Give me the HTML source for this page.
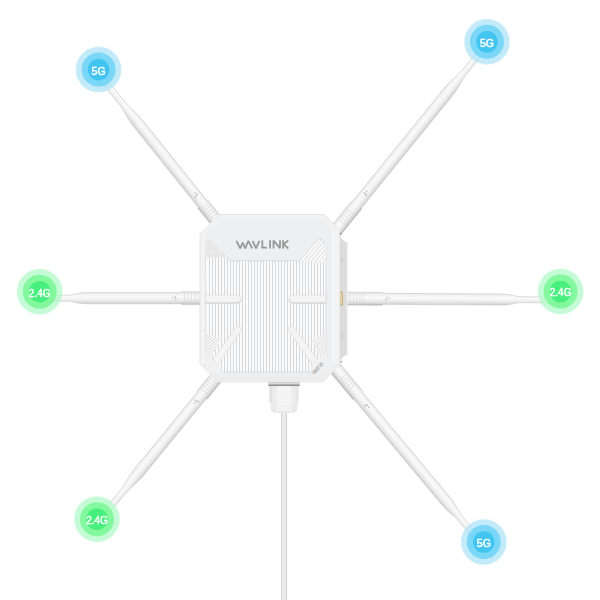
<!DOCTYPE html>
<html><head><meta charset="utf-8">
<style>
html,body{margin:0;padding:0;background:#fff;}
body{width:600px;height:600px;overflow:hidden;position:relative;}
svg{position:absolute;left:0;top:0;}
text{font-family:"Liberation Sans",sans-serif;}
</style></head>
<body>
<svg width="600" height="600" viewBox="0 0 600 600">
<defs>
  <filter id="soft" x="-20%" y="-20%" width="140%" height="140%"><feGaussianBlur stdDeviation="0.35"/></filter>
  <linearGradient id="antG" x1="0" y1="0" x2="0" y2="1">
    <stop offset="0" stop-color="#dedede"/>
    <stop offset="0.15" stop-color="#efefef"/>
    <stop offset="0.38" stop-color="#fafafa"/>
    <stop offset="0.62" stop-color="#f0f0f0"/>
    <stop offset="0.86" stop-color="#d8d8d8"/>
    <stop offset="1" stop-color="#a9a9a9"/>
  </linearGradient>
  <pattern id="ribs" x="0.7" y="0" width="3" height="10" patternUnits="userSpaceOnUse">
    <rect width="3" height="10" fill="#f8f8f8"/>
    <rect x="0" width="1" height="10" fill="#dedede"/>
  </pattern>
  <pattern id="hatch" width="2.6" height="2.6" patternUnits="userSpaceOnUse" patternTransform="rotate(45)">
    <rect width="2.6" height="2.6" fill="#f6f6f6"/>
    <rect width="0.9" height="2.6" fill="#dcdcdc"/>
  </pattern>
  <pattern id="hatch2" width="2.6" height="2.6" patternUnits="userSpaceOnUse" patternTransform="rotate(-45)">
    <rect width="2.6" height="2.6" fill="#f6f6f6"/>
    <rect width="0.9" height="2.6" fill="#dcdcdc"/>
  </pattern>
</defs>
<!-- cable -->
<rect x="281" y="405" width="6" height="195" fill="#ededed"/>
<rect x="281" y="405" width="1.2" height="195" fill="#d9d9d9"/>
<rect x="285.8" y="405" width="1.2" height="195" fill="#d2d2d2"/>
<g transform="translate(205,298.2) rotate(180) scale(1,-1)">
<path d="M-12,-6.4 L23,-6.4 L24.5,-5.5 L119,-5.5 C129.0,-5.5 131.0,-2.9 139,-2.9 L165,-2.9 Q168,-2.9 168,0 Q168,2.9 165,2.9 L139,2.9 C131.0,2.9 129.0,5.5 119,5.5 L24.5,5.5 L23,6.4 L-12,6.4 Z" fill="url(#antG)" stroke="#cdcdcd" stroke-width="0.7"/>
<line x1="7.0" y1="-5.800000000000001" x2="7.0" y2="5.800000000000001" stroke="#d9d9d9" stroke-width="0.7"/>
<line x1="10.3" y1="-5.800000000000001" x2="10.3" y2="5.800000000000001" stroke="#d9d9d9" stroke-width="0.7"/>
<line x1="13.6" y1="-5.800000000000001" x2="13.6" y2="5.800000000000001" stroke="#d9d9d9" stroke-width="0.7"/>
<line x1="16.9" y1="-5.800000000000001" x2="16.9" y2="5.800000000000001" stroke="#d9d9d9" stroke-width="0.7"/>
<line x1="20.2" y1="-5.800000000000001" x2="20.2" y2="5.800000000000001" stroke="#d9d9d9" stroke-width="0.7"/>
<path d="M29.5,-2.2 q1.5,1 0,2.2 q-1.5,1 0,2.2 M32.2,-1.6 q1.2,0.8 0,1.6" fill="none" stroke="#8c8c8c" stroke-width="0.55"/>
</g>
<g transform="translate(343,298.6) rotate(0.35)">
<path d="M-12,-6.4 L39,-6.4 L40.5,-5.5 L158,-5.5 C169.0,-5.5 171.2,-2.9 180,-2.9 L221.5,-2.9 Q224.5,-2.9 224.5,0 Q224.5,2.9 221.5,2.9 L180,2.9 C171.2,2.9 169.0,5.5 158,5.5 L40.5,5.5 L39,6.4 L-12,6.4 Z" fill="url(#antG)" stroke="#cdcdcd" stroke-width="0.7"/>
<line x1="7.0" y1="-5.800000000000001" x2="7.0" y2="5.800000000000001" stroke="#d9d9d9" stroke-width="0.7"/>
<line x1="10.3" y1="-5.800000000000001" x2="10.3" y2="5.800000000000001" stroke="#d9d9d9" stroke-width="0.7"/>
<line x1="13.6" y1="-5.800000000000001" x2="13.6" y2="5.800000000000001" stroke="#d9d9d9" stroke-width="0.7"/>
<line x1="16.9" y1="-5.800000000000001" x2="16.9" y2="5.800000000000001" stroke="#d9d9d9" stroke-width="0.7"/>
<line x1="20.2" y1="-5.800000000000001" x2="20.2" y2="5.800000000000001" stroke="#d9d9d9" stroke-width="0.7"/>
<path d="M43.5,-2.2 q1.5,1 0,2.2 q-1.5,1 0,2.2 M46.2,-1.6 q1.2,0.8 0,1.6" fill="none" stroke="#8c8c8c" stroke-width="0.55"/>
</g>
<g transform="translate(217.1,222) rotate(-128.66) scale(1,-1)">
<path d="M-12,-6.4 L22,-6.4 L23.5,-5.5 L124,-5.5 C139.0,-5.5 142.0,-2.9 154,-2.9 L179,-2.9 Q182,-2.9 182,0 Q182,2.9 179,2.9 L154,2.9 C142.0,2.9 139.0,5.5 124,5.5 L23.5,5.5 L22,6.4 L-12,6.4 Z" fill="url(#antG)" stroke="#cdcdcd" stroke-width="0.7"/>
<line x1="7.0" y1="-5.800000000000001" x2="7.0" y2="5.800000000000001" stroke="#d9d9d9" stroke-width="0.7"/>
<line x1="10.3" y1="-5.800000000000001" x2="10.3" y2="5.800000000000001" stroke="#d9d9d9" stroke-width="0.7"/>
<line x1="13.6" y1="-5.800000000000001" x2="13.6" y2="5.800000000000001" stroke="#d9d9d9" stroke-width="0.7"/>
<line x1="16.9" y1="-5.800000000000001" x2="16.9" y2="5.800000000000001" stroke="#d9d9d9" stroke-width="0.7"/>
<line x1="20.2" y1="-5.800000000000001" x2="20.2" y2="5.800000000000001" stroke="#d9d9d9" stroke-width="0.7"/>
<path d="M33.5,-2.2 q1.5,1 0,2.2 q-1.5,1 0,2.2 M36.2,-1.6 q1.2,0.8 0,1.6" fill="none" stroke="#8c8c8c" stroke-width="0.55"/>
</g>
<g transform="translate(338.1,228) rotate(-50.99)">
<path d="M-12,-6.4 L29,-6.4 L30.5,-5.5 L174,-5.5 C187.0,-5.5 189.6,-2.9 200,-2.9 L226,-2.9 Q229,-2.9 229,0 Q229,2.9 226,2.9 L200,2.9 C189.6,2.9 187.0,5.5 174,5.5 L30.5,5.5 L29,6.4 L-12,6.4 Z" fill="url(#antG)" stroke="#cdcdcd" stroke-width="0.7"/>
<line x1="7.0" y1="-5.800000000000001" x2="7.0" y2="5.800000000000001" stroke="#d9d9d9" stroke-width="0.7"/>
<line x1="10.3" y1="-5.800000000000001" x2="10.3" y2="5.800000000000001" stroke="#d9d9d9" stroke-width="0.7"/>
<line x1="13.6" y1="-5.800000000000001" x2="13.6" y2="5.800000000000001" stroke="#d9d9d9" stroke-width="0.7"/>
<line x1="16.9" y1="-5.800000000000001" x2="16.9" y2="5.800000000000001" stroke="#d9d9d9" stroke-width="0.7"/>
<line x1="20.2" y1="-5.800000000000001" x2="20.2" y2="5.800000000000001" stroke="#d9d9d9" stroke-width="0.7"/>
<path d="M43.5,-2.2 q1.5,1 0,2.2 q-1.5,1 0,2.2 M46.2,-1.6 q1.2,0.8 0,1.6" fill="none" stroke="#8c8c8c" stroke-width="0.55"/>
</g>
<g transform="translate(217.7,376) rotate(129.3) scale(1,-1)">
<path d="M-12,-6.4 L24,-6.4 L25.5,-5.5 L122,-5.5 C137.0,-5.5 140.0,-2.9 152,-2.9 L177,-2.9 Q180,-2.9 180,0 Q180,2.9 177,2.9 L152,2.9 C140.0,2.9 137.0,5.5 122,5.5 L25.5,5.5 L24,6.4 L-12,6.4 Z" fill="url(#antG)" stroke="#cdcdcd" stroke-width="0.7"/>
<line x1="7.0" y1="-5.800000000000001" x2="7.0" y2="5.800000000000001" stroke="#d9d9d9" stroke-width="0.7"/>
<line x1="10.3" y1="-5.800000000000001" x2="10.3" y2="5.800000000000001" stroke="#d9d9d9" stroke-width="0.7"/>
<line x1="13.6" y1="-5.800000000000001" x2="13.6" y2="5.800000000000001" stroke="#d9d9d9" stroke-width="0.7"/>
<line x1="16.9" y1="-5.800000000000001" x2="16.9" y2="5.800000000000001" stroke="#d9d9d9" stroke-width="0.7"/>
<line x1="20.2" y1="-5.800000000000001" x2="20.2" y2="5.800000000000001" stroke="#d9d9d9" stroke-width="0.7"/>
<path d="M32.5,-2.2 q1.5,1 0,2.2 q-1.5,1 0,2.2 M35.2,-1.6 q1.2,0.8 0,1.6" fill="none" stroke="#8c8c8c" stroke-width="0.55"/>
</g>
<g transform="translate(338.4,372) rotate(50.2)">
<path d="M-12,-6.4 L30,-6.4 L31.5,-5.5 L168,-5.5 C180.0,-5.5 182.4,-2.9 192,-2.9 L239,-2.9 Q242,-2.9 242,0 Q242,2.9 239,2.9 L192,2.9 C182.4,2.9 180.0,5.5 168,5.5 L31.5,5.5 L30,6.4 L-12,6.4 Z" fill="url(#antG)" stroke="#cdcdcd" stroke-width="0.7"/>
<line x1="7.0" y1="-5.800000000000001" x2="7.0" y2="5.800000000000001" stroke="#d9d9d9" stroke-width="0.7"/>
<line x1="10.3" y1="-5.800000000000001" x2="10.3" y2="5.800000000000001" stroke="#d9d9d9" stroke-width="0.7"/>
<line x1="13.6" y1="-5.800000000000001" x2="13.6" y2="5.800000000000001" stroke="#d9d9d9" stroke-width="0.7"/>
<line x1="16.9" y1="-5.800000000000001" x2="16.9" y2="5.800000000000001" stroke="#d9d9d9" stroke-width="0.7"/>
<line x1="20.2" y1="-5.800000000000001" x2="20.2" y2="5.800000000000001" stroke="#d9d9d9" stroke-width="0.7"/>
<path d="M43.5,-2.2 q1.5,1 0,2.2 q-1.5,1 0,2.2 M46.2,-1.6 q1.2,0.8 0,1.6" fill="none" stroke="#8c8c8c" stroke-width="0.55"/>
</g>
<g transform="translate(98.6,69.6)" filter="url(#soft)"><circle r="23.5" fill="#afe2f7" fill-opacity="0.22"/><circle r="22.5" fill="#afe2f7" fill-opacity="0.7"/><circle r="17" fill="#62d0f8" fill-opacity="0.75"/><circle r="10.8" fill="#43c5f1"/><text x="0" y="5.0" font-size="10.5" fill="#fff" stroke="#fff" stroke-width="0.45" text-anchor="middle" style="font-weight:400">5G</text></g>
<g transform="translate(487,41.8)" filter="url(#soft)"><circle r="23.5" fill="#afe2f7" fill-opacity="0.22"/><circle r="22.5" fill="#afe2f7" fill-opacity="0.7"/><circle r="17" fill="#62d0f8" fill-opacity="0.75"/><circle r="10.8" fill="#43c5f1"/><text x="0" y="5.0" font-size="10.5" fill="#fff" stroke="#fff" stroke-width="0.45" text-anchor="middle" style="font-weight:400">5G</text></g>
<g transform="translate(483.8,542)" filter="url(#soft)"><circle r="23.5" fill="#afe2f7" fill-opacity="0.22"/><circle r="22.5" fill="#afe2f7" fill-opacity="0.7"/><circle r="17" fill="#62d0f8" fill-opacity="0.75"/><circle r="10.8" fill="#43c5f1"/><text x="0" y="5.0" font-size="10.5" fill="#fff" stroke="#fff" stroke-width="0.45" text-anchor="middle" style="font-weight:400">5G</text></g>
<g transform="translate(39.7,291.7)" filter="url(#soft)"><circle r="23.5" fill="#b2f9c9" fill-opacity="0.22"/><circle r="22.5" fill="#b2f9c9" fill-opacity="0.7"/><circle r="17" fill="#6ff78b" fill-opacity="0.75"/><circle r="10.8" fill="#46f07c"/><text x="0" y="4.8" font-size="10" fill="#fff" stroke="#fff" stroke-width="0.45" text-anchor="middle" style="font-weight:400">2.4G</text></g>
<g transform="translate(560.6,291.5)" filter="url(#soft)"><circle r="23.5" fill="#b2f9c9" fill-opacity="0.22"/><circle r="22.5" fill="#b2f9c9" fill-opacity="0.7"/><circle r="17" fill="#6ff78b" fill-opacity="0.75"/><circle r="10.8" fill="#46f07c"/><text x="0" y="4.8" font-size="10" fill="#fff" stroke="#fff" stroke-width="0.45" text-anchor="middle" style="font-weight:400">2.4G</text></g>
<g transform="translate(97,519.2)" filter="url(#soft)"><circle r="23.5" fill="#b2f9c9" fill-opacity="0.22"/><circle r="22.5" fill="#b2f9c9" fill-opacity="0.7"/><circle r="17" fill="#6ff78b" fill-opacity="0.75"/><circle r="10.8" fill="#46f07c"/><text x="0" y="4.8" font-size="10" fill="#fff" stroke="#fff" stroke-width="0.45" text-anchor="middle" style="font-weight:400">2.4G</text></g>
<g id="body">
<path d="M339.5,236 L344,241 L347.5,242 L347.5,355 L344,356 L339.5,361 Z" fill="#dcdcdc"/>
<rect x="346.3" y="242" width="1.4" height="1.5" fill="#f4f4f4"/>
<rect x="346.3" y="245" width="1.4" height="1.5" fill="#f4f4f4"/>
<rect x="346.3" y="248" width="1.4" height="1.5" fill="#f4f4f4"/>
<rect x="346.3" y="251" width="1.4" height="1.5" fill="#f4f4f4"/>
<rect x="346.3" y="254" width="1.4" height="1.5" fill="#f4f4f4"/>
<rect x="346.3" y="257" width="1.4" height="1.5" fill="#f4f4f4"/>
<rect x="346.3" y="260" width="1.4" height="1.5" fill="#f4f4f4"/>
<rect x="346.3" y="263" width="1.4" height="1.5" fill="#f4f4f4"/>
<rect x="346.3" y="266" width="1.4" height="1.5" fill="#f4f4f4"/>
<rect x="346.3" y="269" width="1.4" height="1.5" fill="#f4f4f4"/>
<rect x="346.3" y="272" width="1.4" height="1.5" fill="#f4f4f4"/>
<rect x="346.3" y="275" width="1.4" height="1.5" fill="#f4f4f4"/>
<rect x="346.3" y="278" width="1.4" height="1.5" fill="#f4f4f4"/>
<rect x="346.3" y="281" width="1.4" height="1.5" fill="#f4f4f4"/>
<rect x="346.3" y="284" width="1.4" height="1.5" fill="#f4f4f4"/>
<rect x="346.3" y="287" width="1.4" height="1.5" fill="#f4f4f4"/>
<rect x="346.3" y="290" width="1.4" height="1.5" fill="#f4f4f4"/>
<rect x="346.3" y="293" width="1.4" height="1.5" fill="#f4f4f4"/>
<rect x="346.3" y="296" width="1.4" height="1.5" fill="#f4f4f4"/>
<rect x="346.3" y="299" width="1.4" height="1.5" fill="#f4f4f4"/>
<rect x="346.3" y="302" width="1.4" height="1.5" fill="#f4f4f4"/>
<rect x="346.3" y="305" width="1.4" height="1.5" fill="#f4f4f4"/>
<rect x="346.3" y="308" width="1.4" height="1.5" fill="#f4f4f4"/>
<rect x="346.3" y="311" width="1.4" height="1.5" fill="#f4f4f4"/>
<rect x="346.3" y="314" width="1.4" height="1.5" fill="#f4f4f4"/>
<rect x="346.3" y="317" width="1.4" height="1.5" fill="#f4f4f4"/>
<rect x="346.3" y="320" width="1.4" height="1.5" fill="#f4f4f4"/>
<rect x="346.3" y="323" width="1.4" height="1.5" fill="#f4f4f4"/>
<rect x="346.3" y="326" width="1.4" height="1.5" fill="#f4f4f4"/>
<rect x="346.3" y="329" width="1.4" height="1.5" fill="#f4f4f4"/>
<rect x="346.3" y="332" width="1.4" height="1.5" fill="#f4f4f4"/>
<rect x="346.3" y="335" width="1.4" height="1.5" fill="#f4f4f4"/>
<rect x="346.3" y="338" width="1.4" height="1.5" fill="#f4f4f4"/>
<rect x="346.3" y="341" width="1.4" height="1.5" fill="#f4f4f4"/>
<rect x="346.3" y="344" width="1.4" height="1.5" fill="#f4f4f4"/>
<rect x="346.3" y="347" width="1.4" height="1.5" fill="#f4f4f4"/>
<rect x="346.3" y="350" width="1.4" height="1.5" fill="#f4f4f4"/>
<rect x="346.3" y="353" width="1.4" height="1.5" fill="#f4f4f4"/>
<rect x="340.5" y="258" width="2.5" height="4" fill="#cfcfcf"/>
<rect x="340.5" y="334" width="2.5" height="4" fill="#cfcfcf"/>
<circle cx="340.3" cy="233.8" r="0.9" fill="#444"/>
<circle cx="341" cy="361.8" r="0.8" fill="#666"/>
<rect x="339.8" y="291.5" width="3.2" height="14" fill="#c9b27c"/>
<rect x="340.3" y="293" width="1.6" height="11" fill="#e6d6a6"/>
<path d="M219,214.5 L324.5,214.5 L340,231 L340,364 L323,382 L218,382 L200,364 L200,234 Z" fill="#f3f3f3" stroke="#dadada" stroke-width="0.7"/>
<path d="M324.5,214.5 L340,231 L331.5,231 L320,218.5 Z" fill="#f1f1f2"/>
<path d="M219,214.5 L200,234 L205,234 L221,218.5 Z" fill="#f1f1f2"/>
<path d="M200,364 L218,382 L323,382 L340,364 L335,364 L320,377 L221,377 L205,364 Z" fill="#ededed"/>
<line x1="221" y1="377" x2="320" y2="377" stroke="#e2e2e2" stroke-width="0.6"/>
<path d="M221,218.5 L320,218.5 L331.5,231 L331.5,366 L320,377 L221,377 L205,364 L205,234 Z" fill="#eeeff1"/>
<path d="M205.5,246 Q205.5,241 210.5,240.5 L229.5,260.8 L299.7,260.8 L318.3,238.8 Q320,237.5 321.5,239 L326,245 L326,351 L312,372 L222,372 L206,352 Z" fill="#fbfbfc" stroke="#d6d6d6" stroke-width="0.7"/>
<clipPath id="pclip"><path d="M205.5,246 Q205.5,241 210.5,240.5 L229.5,260.8 L299.7,260.8 L318.3,238.8 Q320,237.5 321.5,239 L326,245 L326,351 L312,372 L222,372 L206,352 Z"/></clipPath>
<g clip-path="url(#pclip)" stroke="#d7d8da" stroke-width="1.0">
<line x1="209.5" y1="236" x2="209.5" y2="372"/>
<line x1="212.5" y1="236" x2="212.5" y2="372"/>
<line x1="215.5" y1="236" x2="215.5" y2="372"/>
<line x1="218.5" y1="236" x2="218.5" y2="372"/>
<line x1="221.5" y1="236" x2="221.5" y2="372"/>
<line x1="224.5" y1="236" x2="224.5" y2="372"/>
<line x1="227.5" y1="236" x2="227.5" y2="372"/>
<line x1="230.5" y1="236" x2="230.5" y2="372"/>
<line x1="233.5" y1="236" x2="233.5" y2="372"/>
<line x1="236.5" y1="236" x2="236.5" y2="372"/>
<line x1="239.5" y1="236" x2="239.5" y2="372"/>
<line x1="242.5" y1="236" x2="242.5" y2="372"/>
<line x1="245.5" y1="236" x2="245.5" y2="372"/>
<line x1="248.5" y1="236" x2="248.5" y2="372"/>
<line x1="251.5" y1="236" x2="251.5" y2="372"/>
<line x1="254.5" y1="236" x2="254.5" y2="372"/>
<line x1="257.5" y1="236" x2="257.5" y2="372"/>
<line x1="260.5" y1="236" x2="260.5" y2="372"/>
<line x1="263.5" y1="236" x2="263.5" y2="372"/>
<line x1="266.5" y1="236" x2="266.5" y2="372"/>
<line x1="269.5" y1="236" x2="269.5" y2="372"/>
<line x1="272.5" y1="236" x2="272.5" y2="372"/>
<line x1="275.5" y1="236" x2="275.5" y2="372"/>
<line x1="278.5" y1="236" x2="278.5" y2="372"/>
<line x1="281.5" y1="236" x2="281.5" y2="372"/>
<line x1="284.5" y1="236" x2="284.5" y2="372"/>
<line x1="287.5" y1="236" x2="287.5" y2="372"/>
<line x1="290.5" y1="236" x2="290.5" y2="372"/>
<line x1="293.5" y1="236" x2="293.5" y2="372"/>
<line x1="296.5" y1="236" x2="296.5" y2="372"/>
<line x1="299.5" y1="236" x2="299.5" y2="372"/>
<line x1="302.5" y1="236" x2="302.5" y2="372"/>
<line x1="305.5" y1="236" x2="305.5" y2="372"/>
<line x1="308.5" y1="236" x2="308.5" y2="372"/>
<line x1="311.5" y1="236" x2="311.5" y2="372"/>
<line x1="314.5" y1="236" x2="314.5" y2="372"/>
<line x1="317.5" y1="236" x2="317.5" y2="372"/>
<line x1="320.5" y1="236" x2="320.5" y2="372"/>
<line x1="323.5" y1="236" x2="323.5" y2="372"/>
</g>
<clipPath id="tlc"><path d="M205.5,246 Q205.5,241 210.5,240.5 L226,257.5 L205.5,257.5 Z"/></clipPath>
<g clip-path="url(#tlc)"><rect x="205" y="238" width="25" height="22" fill="#f7f7f7"/>
<line x1="181.0" y1="238" x2="203.0" y2="260" stroke="#dcdcdc" stroke-width="0.8"/>
<line x1="181.0" y1="260" x2="203.0" y2="238" stroke="#dcdcdc" stroke-width="0.8"/>
<line x1="183.4" y1="238" x2="205.4" y2="260" stroke="#dcdcdc" stroke-width="0.8"/>
<line x1="183.4" y1="260" x2="205.4" y2="238" stroke="#dcdcdc" stroke-width="0.8"/>
<line x1="185.8" y1="238" x2="207.8" y2="260" stroke="#dcdcdc" stroke-width="0.8"/>
<line x1="185.8" y1="260" x2="207.8" y2="238" stroke="#dcdcdc" stroke-width="0.8"/>
<line x1="188.2" y1="238" x2="210.2" y2="260" stroke="#dcdcdc" stroke-width="0.8"/>
<line x1="188.2" y1="260" x2="210.2" y2="238" stroke="#dcdcdc" stroke-width="0.8"/>
<line x1="190.6" y1="238" x2="212.6" y2="260" stroke="#dcdcdc" stroke-width="0.8"/>
<line x1="190.6" y1="260" x2="212.6" y2="238" stroke="#dcdcdc" stroke-width="0.8"/>
<line x1="193.0" y1="238" x2="215.0" y2="260" stroke="#dcdcdc" stroke-width="0.8"/>
<line x1="193.0" y1="260" x2="215.0" y2="238" stroke="#dcdcdc" stroke-width="0.8"/>
<line x1="195.4" y1="238" x2="217.4" y2="260" stroke="#dcdcdc" stroke-width="0.8"/>
<line x1="195.4" y1="260" x2="217.4" y2="238" stroke="#dcdcdc" stroke-width="0.8"/>
<line x1="197.8" y1="238" x2="219.8" y2="260" stroke="#dcdcdc" stroke-width="0.8"/>
<line x1="197.8" y1="260" x2="219.8" y2="238" stroke="#dcdcdc" stroke-width="0.8"/>
<line x1="200.2" y1="238" x2="222.2" y2="260" stroke="#dcdcdc" stroke-width="0.8"/>
<line x1="200.2" y1="260" x2="222.2" y2="238" stroke="#dcdcdc" stroke-width="0.8"/>
<line x1="202.6" y1="238" x2="224.6" y2="260" stroke="#dcdcdc" stroke-width="0.8"/>
<line x1="202.6" y1="260" x2="224.6" y2="238" stroke="#dcdcdc" stroke-width="0.8"/>
<line x1="205.0" y1="238" x2="227.0" y2="260" stroke="#dcdcdc" stroke-width="0.8"/>
<line x1="205.0" y1="260" x2="227.0" y2="238" stroke="#dcdcdc" stroke-width="0.8"/>
<line x1="207.4" y1="238" x2="229.4" y2="260" stroke="#dcdcdc" stroke-width="0.8"/>
<line x1="207.4" y1="260" x2="229.4" y2="238" stroke="#dcdcdc" stroke-width="0.8"/>
<line x1="209.8" y1="238" x2="231.8" y2="260" stroke="#dcdcdc" stroke-width="0.8"/>
<line x1="209.8" y1="260" x2="231.8" y2="238" stroke="#dcdcdc" stroke-width="0.8"/>
<line x1="212.2" y1="238" x2="234.2" y2="260" stroke="#dcdcdc" stroke-width="0.8"/>
<line x1="212.2" y1="260" x2="234.2" y2="238" stroke="#dcdcdc" stroke-width="0.8"/>
<line x1="214.6" y1="238" x2="236.6" y2="260" stroke="#dcdcdc" stroke-width="0.8"/>
<line x1="214.6" y1="260" x2="236.6" y2="238" stroke="#dcdcdc" stroke-width="0.8"/>
<line x1="217.0" y1="238" x2="239.0" y2="260" stroke="#dcdcdc" stroke-width="0.8"/>
<line x1="217.0" y1="260" x2="239.0" y2="238" stroke="#dcdcdc" stroke-width="0.8"/>
<line x1="219.4" y1="238" x2="241.4" y2="260" stroke="#dcdcdc" stroke-width="0.8"/>
<line x1="219.4" y1="260" x2="241.4" y2="238" stroke="#dcdcdc" stroke-width="0.8"/>
<line x1="221.8" y1="238" x2="243.8" y2="260" stroke="#dcdcdc" stroke-width="0.8"/>
<line x1="221.8" y1="260" x2="243.8" y2="238" stroke="#dcdcdc" stroke-width="0.8"/>
<line x1="224.2" y1="238" x2="246.2" y2="260" stroke="#dcdcdc" stroke-width="0.8"/>
<line x1="224.2" y1="260" x2="246.2" y2="238" stroke="#dcdcdc" stroke-width="0.8"/>
<line x1="226.6" y1="238" x2="248.6" y2="260" stroke="#dcdcdc" stroke-width="0.8"/>
<line x1="226.6" y1="260" x2="248.6" y2="238" stroke="#dcdcdc" stroke-width="0.8"/>
<line x1="229.0" y1="238" x2="251.0" y2="260" stroke="#dcdcdc" stroke-width="0.8"/>
<line x1="229.0" y1="260" x2="251.0" y2="238" stroke="#dcdcdc" stroke-width="0.8"/>
<line x1="231.4" y1="238" x2="253.4" y2="260" stroke="#dcdcdc" stroke-width="0.8"/>
<line x1="231.4" y1="260" x2="253.4" y2="238" stroke="#dcdcdc" stroke-width="0.8"/>
<line x1="233.8" y1="238" x2="255.8" y2="260" stroke="#dcdcdc" stroke-width="0.8"/>
<line x1="233.8" y1="260" x2="255.8" y2="238" stroke="#dcdcdc" stroke-width="0.8"/>
<line x1="236.2" y1="238" x2="258.2" y2="260" stroke="#dcdcdc" stroke-width="0.8"/>
<line x1="236.2" y1="260" x2="258.2" y2="238" stroke="#dcdcdc" stroke-width="0.8"/>
<line x1="238.6" y1="238" x2="260.6" y2="260" stroke="#dcdcdc" stroke-width="0.8"/>
<line x1="238.6" y1="260" x2="260.6" y2="238" stroke="#dcdcdc" stroke-width="0.8"/>
<line x1="241.0" y1="238" x2="263.0" y2="260" stroke="#dcdcdc" stroke-width="0.8"/>
<line x1="241.0" y1="260" x2="263.0" y2="238" stroke="#dcdcdc" stroke-width="0.8"/>
<line x1="243.4" y1="238" x2="265.4" y2="260" stroke="#dcdcdc" stroke-width="0.8"/>
<line x1="243.4" y1="260" x2="265.4" y2="238" stroke="#dcdcdc" stroke-width="0.8"/>
<line x1="245.8" y1="238" x2="267.8" y2="260" stroke="#dcdcdc" stroke-width="0.8"/>
<line x1="245.8" y1="260" x2="267.8" y2="238" stroke="#dcdcdc" stroke-width="0.8"/>
<line x1="248.2" y1="238" x2="270.2" y2="260" stroke="#dcdcdc" stroke-width="0.8"/>
<line x1="248.2" y1="260" x2="270.2" y2="238" stroke="#dcdcdc" stroke-width="0.8"/>
<line x1="250.6" y1="238" x2="272.6" y2="260" stroke="#dcdcdc" stroke-width="0.8"/>
<line x1="250.6" y1="260" x2="272.6" y2="238" stroke="#dcdcdc" stroke-width="0.8"/>
</g>
<clipPath id="trc"><path d="M302,258.5 L318.3,239.5 L326,246 L326,262 L302,262 Z"/></clipPath>
<g clip-path="url(#trc)"><rect x="300" y="236" width="28" height="28" fill="#f9f9f9"/>
<line x1="280.4" y1="283.8" x2="319.0" y2="237.8" stroke="#d9d9d9" stroke-width="0.9"/>
<line x1="282.8" y1="285.8" x2="321.3" y2="239.8" stroke="#d9d9d9" stroke-width="0.9"/>
<line x1="285.2" y1="287.8" x2="323.7" y2="241.8" stroke="#d9d9d9" stroke-width="0.9"/>
<line x1="287.6" y1="289.8" x2="326.1" y2="243.8" stroke="#d9d9d9" stroke-width="0.9"/>
<line x1="289.9" y1="291.7" x2="328.5" y2="245.8" stroke="#d9d9d9" stroke-width="0.9"/>
<line x1="292.3" y1="293.7" x2="330.8" y2="247.8" stroke="#d9d9d9" stroke-width="0.9"/>
<line x1="294.7" y1="295.7" x2="333.2" y2="249.8" stroke="#d9d9d9" stroke-width="0.9"/>
<line x1="297.1" y1="297.7" x2="335.6" y2="251.8" stroke="#d9d9d9" stroke-width="0.9"/>
</g>
<path d="M205.5,295 L237,295 Q241,295 241,298.7 Q241,302.4 237,302.4 L205.5,302.4 Z" fill="#f4f4f5" stroke="#d9d9d9" stroke-width="0.6"/>
<path d="M205.5,303.2 L237,303.2 Q240.5,303.2 241.5,300" fill="none" stroke="#cfcfd1" stroke-width="0.9"/>
<path d="M326,295 L293,295 Q289,295 289,298.7 Q289,302.4 293,302.4 L326,302.4 Z" fill="#f4f4f5" stroke="#d9d9d9" stroke-width="0.6"/>
<path d="M326,303.2 L293,303.2 Q289.5,303.2 288.5,300" fill="none" stroke="#cfcfd1" stroke-width="0.9"/>
<clipPath id="blc"><path d="M206.5,333 L220.5,340.5 L212,356 L206.5,351 Z"/></clipPath>
<g clip-path="url(#blc)"><rect x="205" y="330" width="20" height="30" fill="#f8f8f8"/>
<line x1="204" y1="338.0" x2="226" y2="320.4" stroke="#d6d6d6" stroke-width="0.9"/>
<line x1="204" y1="341.0" x2="226" y2="323.4" stroke="#d6d6d6" stroke-width="0.9"/>
<line x1="204" y1="344.0" x2="226" y2="326.4" stroke="#d6d6d6" stroke-width="0.9"/>
<line x1="204" y1="347.0" x2="226" y2="329.4" stroke="#d6d6d6" stroke-width="0.9"/>
<line x1="204" y1="350.0" x2="226" y2="332.4" stroke="#d6d6d6" stroke-width="0.9"/>
<line x1="204" y1="353.0" x2="226" y2="335.4" stroke="#d6d6d6" stroke-width="0.9"/>
<line x1="204" y1="356.0" x2="226" y2="338.4" stroke="#d6d6d6" stroke-width="0.9"/>
<line x1="204" y1="359.0" x2="226" y2="341.4" stroke="#d6d6d6" stroke-width="0.9"/>
<line x1="204" y1="362.0" x2="226" y2="344.4" stroke="#d6d6d6" stroke-width="0.9"/>
<line x1="204" y1="365.0" x2="226" y2="347.4" stroke="#d6d6d6" stroke-width="0.9"/>
<line x1="204" y1="368.0" x2="226" y2="350.4" stroke="#d6d6d6" stroke-width="0.9"/>
<line x1="204" y1="371.0" x2="226" y2="353.4" stroke="#d6d6d6" stroke-width="0.9"/>
<line x1="204" y1="374.0" x2="226" y2="356.4" stroke="#d6d6d6" stroke-width="0.9"/>
<line x1="204" y1="377.0" x2="226" y2="359.4" stroke="#d6d6d6" stroke-width="0.9"/>
<line x1="204" y1="380.0" x2="226" y2="362.4" stroke="#d6d6d6" stroke-width="0.9"/>
<line x1="204" y1="383.0" x2="226" y2="365.4" stroke="#d6d6d6" stroke-width="0.9"/>
</g>
<path d="M236.5,326.5 Q240.5,325 242.5,329 L218,364 L212.5,359.5 Z" fill="#f4f4f4" stroke="#d9d9d9" stroke-width="0.6"/>
<path d="M206,352 L212.5,359.5 L218,364 L222,372 L206,372 Z" fill="#f1f1f1"/>
<clipPath id="brc"><path d="M325.5,333 L311.5,340.5 L320,356 L325.5,351 Z"/></clipPath>
<g clip-path="url(#brc)"><rect x="305" y="330" width="22" height="30" fill="#f8f8f8"/>
<line x1="328" y1="338.0" x2="306" y2="320.4" stroke="#d6d6d6" stroke-width="0.9"/>
<line x1="328" y1="341.0" x2="306" y2="323.4" stroke="#d6d6d6" stroke-width="0.9"/>
<line x1="328" y1="344.0" x2="306" y2="326.4" stroke="#d6d6d6" stroke-width="0.9"/>
<line x1="328" y1="347.0" x2="306" y2="329.4" stroke="#d6d6d6" stroke-width="0.9"/>
<line x1="328" y1="350.0" x2="306" y2="332.4" stroke="#d6d6d6" stroke-width="0.9"/>
<line x1="328" y1="353.0" x2="306" y2="335.4" stroke="#d6d6d6" stroke-width="0.9"/>
<line x1="328" y1="356.0" x2="306" y2="338.4" stroke="#d6d6d6" stroke-width="0.9"/>
<line x1="328" y1="359.0" x2="306" y2="341.4" stroke="#d6d6d6" stroke-width="0.9"/>
<line x1="328" y1="362.0" x2="306" y2="344.4" stroke="#d6d6d6" stroke-width="0.9"/>
<line x1="328" y1="365.0" x2="306" y2="347.4" stroke="#d6d6d6" stroke-width="0.9"/>
<line x1="328" y1="368.0" x2="306" y2="350.4" stroke="#d6d6d6" stroke-width="0.9"/>
<line x1="328" y1="371.0" x2="306" y2="353.4" stroke="#d6d6d6" stroke-width="0.9"/>
<line x1="328" y1="374.0" x2="306" y2="356.4" stroke="#d6d6d6" stroke-width="0.9"/>
<line x1="328" y1="377.0" x2="306" y2="359.4" stroke="#d6d6d6" stroke-width="0.9"/>
<line x1="328" y1="380.0" x2="306" y2="362.4" stroke="#d6d6d6" stroke-width="0.9"/>
<line x1="328" y1="383.0" x2="306" y2="365.4" stroke="#d6d6d6" stroke-width="0.9"/>
</g>
<path d="M293.5,326.5 Q289.5,325 287.5,329 L312,364 L317.5,359.5 Z" fill="#f4f4f4" stroke="#d9d9d9" stroke-width="0.6"/>
<path d="M326,352 L317.5,359.5 L312,364 L310,372 L326,372 Z" fill="#f1f1f1"/>
<g fill="none" stroke="#979797" stroke-width="1.75" stroke-linejoin="miter" stroke-miterlimit="1.6" stroke-linecap="butt">
<path d="M236.4,240.8 L240.2,248.3 L242.7,242.5 L245.1,248.3 L248.4,240.8 L252.2,248.3"/>
<path d="M252.6,240.8 L256,248.3 L259.4,240.8"/>
<path d="M262.3,240.2 L262.3,247.5 L266.8,247.5"/>
<path d="M270.1,240.2 L270.1,248.5"/>
<path d="M273.5,248.5 L273.5,240.6 L280,248.1 L280,240.2"/>
<path d="M283.1,240.2 L283.1,248.5 M288.2,240.4 L283.7,244.3 L288.4,248.5"/>
</g>
<text x="0" y="0" font-size="5.6" fill="#8a8a8a" transform="translate(314.5,375) rotate(-50)">WiFi6</text>
<rect x="268.5" y="382.3" width="31" height="4.2" fill="#b0b0b0"/>
<rect x="268.5" y="382.6" width="31" height="1.3" fill="#e2e2e2"/>
<rect x="268.5" y="385.2" width="31" height="1" fill="#8e8e8e"/>
<path d="M269.5,386.2 L298.5,386.2 L298.5,401 Q298,405.5 293,406 L275,406 Q270,405.5 269.5,401 Z" fill="#ececec"/>
<path d="M276.5,386.2 L291.5,386.2 L291.5,404.5 Q284,406.5 276.5,404.5 Z" fill="#f4f4f4"/>
<path d="M269.5,386.2 L272,386.2 L272,403 L269.5,401 Z" fill="#e2e2e2"/>
<path d="M296,386.2 L298.5,386.2 L298.5,401 L296,403 Z" fill="#e6e6e6"/>
<path d="M270.5,403.5 Q284,409 297.5,403.5 L297.5,408 Q297,412.5 292,413 L276,413 Q271,412.5 270.5,408 Z" fill="#eaeaea"/>
<path d="M276,404.5 Q284,407.5 292,404.5 L292,412.5 L276,412.5 Z" fill="#f1f1f1"/>
<path d="M271,410.5 Q284,414 297,410.5" fill="none" stroke="#dedede" stroke-width="0.8"/>
</g>
</svg>
</body></html>
